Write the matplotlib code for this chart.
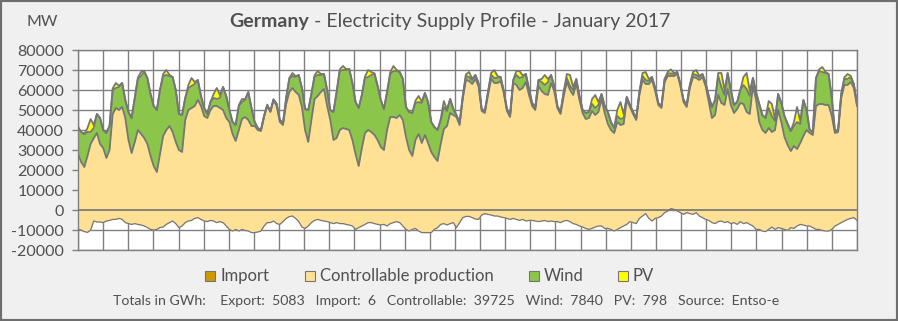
import numpy as np
import matplotlib
matplotlib.use("Agg")
import matplotlib.pyplot as plt
from matplotlib.patches import Rectangle

# Germany, January 2017, values in MW read every 3 h (00,03,...,21), one row per day
controllable = [
    28000, 24000, 21500, 27000, 33000, 36000, 38500, 33000,
    31000, 26000, 30000, 48000, 51000, 50000, 51500, 46000,
    35000, 28500, 34000, 40000, 38000, 36000, 33000, 27000,
    22000, 19000, 28000, 37000, 40000, 42000, 39000, 34000,
    30000, 29000, 45000, 50000, 51000, 52000, 55000, 52000,
    47000, 46000, 50000, 52000, 52000, 51000, 50000, 46000,
    44000, 38000, 34500, 40000, 45500, 46500, 45000, 42000,
    42000, 40000, 39500, 46500, 52000, 49000, 55000, 52000,
    44000, 42500, 53000, 59000, 61000, 59000, 57500, 51500,
    40000, 34000, 45000, 55500, 57000, 59000, 60500, 52000,
    45000, 35000, 36000, 40000, 41000, 40500, 40000, 35000,
    28000, 22000, 31000, 38500, 40000, 39000, 37500, 35000,
    31500, 30000, 40000, 46500, 46500, 46000, 47500, 45000,
    36500, 30000, 27000, 35000, 38000, 33500, 37500, 33500,
    29000, 26500, 24500, 33000, 40500, 42000, 48500, 47500,
    46500, 42500, 55500, 65000, 64500, 63000, 65500, 62000,
    49500, 48500, 57500, 65500, 63500, 63500, 64500, 58500,
    49500, 46500, 63500, 62500, 60000, 61000, 64000, 57500,
    52000, 50000, 62000, 59500, 58000, 57500, 63500, 59500,
    51000, 48000, 57000, 64000, 60000, 57500, 63000, 55000,
    48500, 45500, 46000, 49500, 47500, 49000, 55500, 48500,
    43000, 40000, 38500, 44000, 42500, 43000, 55000, 51500,
    48000, 45000, 57500, 65000, 63000, 63000, 65000, 59500,
    52500, 51000, 64000, 67000, 67000, 67000, 68000, 62000,
    54000, 51500, 61000, 66500, 66000, 65000, 66500, 62000,
    54000, 46000, 47500, 57500, 53500, 52500, 60500, 52500,
    48500, 50500, 53500, 53000, 49000, 48000, 62000, 55000,
    44000, 40000, 38500, 41000, 39000, 40000, 50000, 44000,
    36500, 32500, 29500, 32000, 30500, 33500, 37000, 40000,
    38500, 37500, 52000, 53000, 53000, 52500, 52500, 47000,
    38500, 39000, 56000, 62500, 62500, 64000, 61000, 52000,
]

wind = [
    13500, 15000, 16500, 12000, 6000, 5000, 9500, 13000,
    9000, 12500, 12000, 12000, 10000, 11500, 12000, 9000,
    14000, 17500, 22000, 25500, 29000, 33000, 33000, 31000,
    30000, 31000, 32000, 30000, 27500, 25000, 27500, 26000,
    18000, 18500, 11000, 11000, 11000, 11000, 10000, 5000,
    4000, 2000, 4000, 4000, 3500, 5000, 11500, 11000,
    6000, 6000, 8000, 12000, 8500, 8500, 14000, 9000,
    2000, 1000, 500, 500, 300, 300, 300, 1000,
    1000, 1000, 3000, 6500, 6000, 7500, 10000, 9500,
    10500, 16000, 13000, 11000, 10500, 8500, 7500, 8000,
    5000, 14000, 23000, 29500, 29000, 29500, 30500, 28500,
    26000, 29000, 26500, 27500, 26500, 28500, 30800, 27000,
    23500, 20500, 19000, 21500, 23000, 23500, 21500, 20500,
    15000, 19000, 21500, 18500, 16000, 20000, 21000, 20500,
    15000, 15000, 15500, 11500, 11000, 7500, 7000, 3000,
    1000, 1000, 1500, 2000, 2000, 2000, 2000, 1500,
    1000, 1000, 1500, 2000, 2500, 2500, 2000, 1000,
    1000, 1000, 1500, 5000, 6000, 5500, 4000, 3000,
    1500, 1500, 3000, 4500, 4500, 6500, 4000, 2500,
    1000, 1000, 2000, 2000, 2000, 2500, 2500, 2000,
    1500, 3000, 3000, 3500, 3500, 3500, 2500, 3500,
    6000, 4000, 2500, 3000, 3000, 3000, 1500, 1000,
    1000, 1000, 1500, 2000, 2000, 1500, 1500, 1500,
    1000, 1000, 1500, 1300, 1300, 1000, 1000, 1000,
    1000, 1000, 1500, 1500, 1500, 1500, 1500, 1500,
    3000, 5500, 7500, 9500, 8000, 5000, 8000, 7500,
    4000, 3500, 6500, 9500, 11500, 9000, 4000, 4000,
    9000, 7500, 7500, 10000, 8000, 4500, 8000, 9500,
    10500, 10500, 10000, 10000, 13500, 9500, 18000, 10000,
    1500, 1500, 14000, 16500, 16000, 16000, 15500, 9000,
    1000, 1000, 2000, 3000, 3000, 2500, 2000, 1000,
]

pv = [
    0, 0, 0, 2000, 6500, 1500, 0, 0,
    0, 0, 0, 800, 2500, 600, 0, 0,
    0, 0, 0, 800, 2000, 500, 0, 0,
    0, 0, 0, 1000, 2500, 600, 0, 0,
    0, 0, 0, 1500, 4000, 1000, 0, 0,
    0, 0, 0, 2000, 5500, 1500, 0, 0,
    0, 0, 0, 500, 1500, 400, 0, 0,
    0, 0, 0, 200, 400, 100, 0, 0,
    0, 0, 0, 500, 1500, 400, 0, 0,
    0, 0, 0, 800, 2000, 500, 0, 0,
    0, 0, 0, 800, 2000, 500, 0, 0,
    0, 0, 0, 800, 3500, 1500, 0, 0,
    0, 0, 0, 800, 2500, 600, 0, 0,
    0, 0, 0, 1200, 3000, 800, 0, 0,
    0, 0, 0, 1000, 3000, 800, 0, 0,
    0, 0, 0, 800, 2500, 600, 0, 0,
    0, 0, 0, 1000, 4000, 1000, 0, 0,
    0, 0, 0, 2000, 3500, 800, 0, 0,
    0, 0, 0, 1500, 5000, 1500, 0, 0,
    0, 0, 0, 2000, 5500, 1500, 0, 0,
    0, 0, 0, 2500, 6500, 1500, 0, 0,
    0, 0, 0, 3000, 8500, 2000, 0, 0,
    0, 0, 0, 1500, 4000, 1000, 0, 0,
    0, 0, 0, 800, 2000, 500, 0, 0,
    0, 0, 0, 1000, 2500, 600, 0, 0,
    0, 0, 0, 1500, 7000, 2500, 0, 0,
    0, 0, 0, 4000, 8000, 2500, 0, 0,
    0, 0, 0, 3500, 6000, 1000, 0, 0,
    0, 0, 0, 2000, 7500, 1500, 0, 0,
    0, 0, 0, 800, 2500, 600, 0, 0,
    0, 0, 0, 800, 2500, 600, 0, 0,
]

# net exchange: negative = export, positive = import
exchange = [
    -9700, -10000, -10800, -11200, -10000, -5500, -6000, -6000,
    -6300, -5500, -5200, -4700, -4700, -4200, -4700, -6300,
    -6800, -7200, -6800, -7200, -7500, -8000, -8800, -9700,
    -10000, -9700, -8800, -8500, -7200, -6300, -5500, -6800,
    -8800, -8000, -6300, -5500, -5200, -4200, -3800, -4700,
    -5500, -5800, -5200, -5500, -6300, -5800, -6300, -8000,
    -9700, -10500, -9700, -10500, -9700, -10200, -10500, -11300,
    -11300, -11000, -10500, -8000, -6300, -6300, -5500, -6800,
    -7200, -5800, -4200, -3300, -3000, -4200, -5800, -8500,
    -9200, -8000, -6300, -5200, -4700, -5200, -5500, -5800,
    -6300, -6800, -6300, -6800, -6800, -7200, -7500, -8000,
    -9700, -8800, -8000, -7200, -6300, -6300, -6800, -7200,
    -7500, -7200, -8000, -6800, -6300, -5800, -6300, -8000,
    -9700, -10500, -9700, -9200, -10500, -11300, -11300, -11300,
    -11300, -9700, -8800, -7200, -6800, -7500, -6800, -6300,
    -8800, -6300, -3800, -3200, -3200, -3800, -4500, -4700,
    -2500, -1800, -2200, -2500, -3000, -3000, -3500, -3800,
    -4200, -4700, -4200, -4700, -5200, -4700, -5500, -5200,
    -5200, -5500, -5800, -5500, -5200, -5800, -5500, -5800,
    -5800, -6300, -5500, -5200, -5800, -6800, -7200, -8000,
    -8500, -9200, -9700, -9200, -8500, -8000, -8000, -9200,
    -9200, -9700, -10500, -9700, -8800, -8000, -7200, -5800,
    -6300, -6800, -4200, -3000, -1800, -4200, -5500, -4200,
    -3800, -3000, -1300, -500, 700, 300, -500, -1300,
    -2200, -1300, -1800, -2200, -1300, -3000, -3800, -4700,
    -5200, -6300, -6800, -5800, -5500, -6300, -5800, -6800,
    -6300, -7200, -5800, -6800, -6300, -7200, -8000, -9700,
    -9700, -10500, -10800, -9700, -8500, -9700, -8800, -9200,
    -9700, -10200, -8800, -9200, -8000, -7200, -7500, -8000,
    -8000, -8800, -9700, -9700, -10200, -10500, -10500, -9700,
    -8000, -7200, -6300, -5500, -4700, -4200, -3800, -5200,
]

legend_names = ["Import", "Controllable production", "Wind", "PV"]
totals_names = ["Export", "Import", "Controllable", "Wind", "PV"]
totals_gwh = [5083, 6, 39725, 7840, 798]
n_days = 31

BEIGE = "#FFE195"
GREEN = "#8BC64A"
YELLOW = "#FFFF00"
GOLD = "#CC9900"
EDGE = "#767676"
GRID = "#808080"
TEXT = "#505050"
BG = "#F0F0F0"

plt.rcParams["font.family"] = ["Lato", "DejaVu Sans"]
plt.rcParams["axes.unicode_minus"] = False

W_PX, H_PX = 898, 321


def px(x, y):
    # pixel position (from top-left) -> figure fraction
    return x / W_PX, 1 - y / H_PX


fig = plt.figure(figsize=(W_PX / 100, H_PX / 100), dpi=100)
fig.patch.set_facecolor(BG)

ax = fig.add_axes([78 / W_PX, 71 / H_PX, 779 / W_PX, 200 / H_PX])
ax.set_facecolor("white")

ctrl = np.array(controllable, dtype=float)
with_wind = ctrl + np.array(wind)
top = with_wind + np.array(pv)
ex = np.array(exchange, dtype=float)
t = np.linspace(0, n_days, len(ctrl))

ax.fill_between(t, 0, ctrl, color=BEIGE, lw=0, zorder=2)
ax.fill_between(t, ctrl, with_wind, color=GREEN, lw=0, zorder=2)
ax.fill_between(t, with_wind, top, color=YELLOW, lw=0, zorder=2)
ax.fill_between(t, np.minimum(ex, 0), 0, color=BEIGE, lw=0, zorder=2)
ax.fill_between(t, 0, np.maximum(ex, 0), color=GOLD, lw=0, zorder=2)
for line in (ctrl, with_wind, top):
    ax.plot(t, line, color=EDGE, lw=1.3, zorder=3)
ax.plot(t, ex, color=EDGE, lw=0.9, zorder=3)
ax.axhline(0, color=EDGE, lw=1.2, zorder=4)

ax.set_xlim(0, n_days)
ax.set_ylim(-20000, 80000)
ax.set_xticks(range(n_days + 1))
ax.set_xticklabels([])
ax.set_yticks(range(-20000, 80001, 10000))
ax.tick_params(axis="x", length=0)
ax.tick_params(axis="y", length=4, color=GRID, width=1, pad=6,
               labelsize=11.5, labelcolor=TEXT)
ax.grid(True, color=GRID, lw=1.0)
ax.set_axisbelow(True)
for s in ax.spines.values():
    s.set_color(GRID)
    s.set_linewidth(1.0)

# header
fig.text(*px(42, 22), "MW", ha="center", va="center", fontsize=11.5, color=TEXT)
fig.text(*px(309, 22), "Germany", ha="right", va="center", fontsize=14,
         fontweight="bold", color=TEXT)
fig.text(*px(309, 22), " - Electricity Supply Profile - January 2017", ha="left",
         va="center", fontsize=14, color=TEXT)

# legend row
leg_colors = [GOLD, BEIGE, GREEN, YELLOW]
leg_x = [205, 305, 529, 618]
for name, col, x in zip(legend_names, leg_colors, leg_x):
    x0, y0 = px(x, 281)
    fig.add_artist(Rectangle((x0, y0), 10 / W_PX, 10 / H_PX, transform=fig.transFigure,
                             facecolor=col, edgecolor=EDGE, lw=0.8))
    fig.text(*px(x + 15, 276), name, ha="left", va="center", fontsize=12, color=TEXT)

# totals footer
parts = ["Totals in GWh: "]
for name, val in zip(totals_names, totals_gwh):
    parts.append(f"{name}:  {val}")
parts.append("Source:  Entso-e")
fig.text(*px(446, 301), "   ".join(parts), ha="center", va="center",
         fontsize=10.2, color=TEXT)

fig.add_artist(Rectangle((0, 0), 1, 1, transform=fig.transFigure, fill=False,
                         edgecolor="#6E6E6E", lw=3))

fig.savefig("out.png", dpi=100, facecolor=BG)
